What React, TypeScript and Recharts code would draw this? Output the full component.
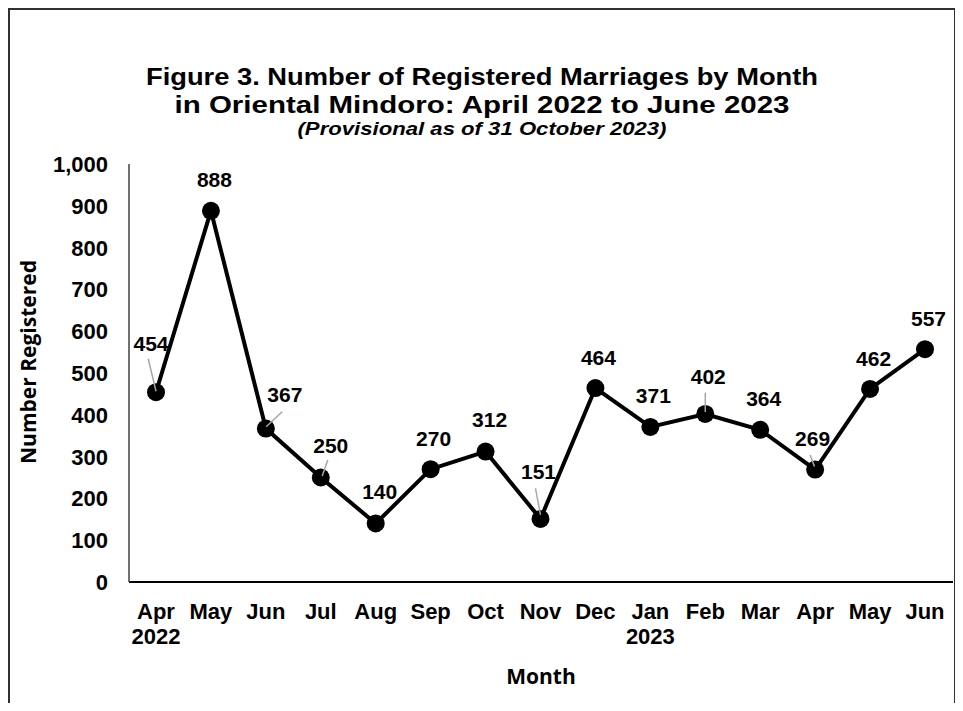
import React from 'react';
import { LineChart, Line, XAxis, YAxis, LabelList } from 'recharts';

// ---- data ----
const months = ['Apr', 'May', 'Jun', 'Jul', 'Aug', 'Sep', 'Oct', 'Nov', 'Dec', 'Jan', 'Feb', 'Mar', 'Apr', 'May', 'Jun'];
const years = ['2022', '', '', '', '', '', '', '', '', '2023', '', '', '', '', ''];
const registered = [454, 888, 367, 250, 140, 270, 312, 151, 464, 371, 402, 364, 269, 462, 557];
const yTicks = [0, 100, 200, 300, 400, 500, 600, 700, 800, 900, 1000];

const titleLines = [
  'Figure 3. Number of Registered Marriages by Month',
  'in Oriental Mindoro: April 2022 to June 2023',
];
const subtitle = '(Provisional as of 31 October 2023)';
const xTitle = 'Month';
const yTitle = 'Number Registered';

// label placement (layout only): [dx, dy] of label centre from point, optional leader [x1,y1,x2,y2] relative to point
const labelPlacement: { dx: number; dy: number; leader?: number[] }[] = [
  { dx: -5, dy: -49, leader: [-7.8, -33.5, 0, -1] },
  { dx: 3.5, dy: -31.5 },
  { dx: 19, dy: -33.6, leader: [16.3, -16.9, 0.3, -1.9] },
  { dx: 10, dy: -32.5, leader: [7, -17.5, 1.4, -1.5] },
  { dx: 4, dy: -32 },
  { dx: 3, dy: -31 },
  { dx: 4, dy: -32 },
  { dx: -2, dy: -47, leader: [-5, -30.6, 0, -4] },
  { dx: 3, dy: -31 },
  { dx: 3, dy: -31 },
  { dx: 3, dy: -37, leader: [0, -21.3, 0, -2] },
  { dx: 3.5, dy: -31.5 },
  { dx: -2.5, dy: -31, leader: [-5, -14.6, -0.7, -3] },
  { dx: 3.5, dy: -30.5 },
  { dx: 3.5, dy: -31 },
];

const data = months.map((m, i) => ({ key: `${m}-${i}`, month: m, year: years[i], value: registered[i] }));

const ARIAL = '"Liberation Sans", Arial, sans-serif';
const OPEN = '"Open Sans", "Liberation Sans", Arial, sans-serif';

const W = 948;
const H = 695;

const fmt = (v: number) => v.toLocaleString('en-US');

function YTick(props: any) {
  const { x, y, payload } = props;
  return (
    <text x={x - 21} y={y} dy={8} textAnchor="end" fontFamily={ARIAL} fontWeight="bold" fontSize={22} fill="#000">
      {fmt(payload.value)}
    </text>
  );
}

function XTick(props: any) {
  const { x, y, payload } = props;
  const i = data.findIndex((d) => d.key === payload.value);
  const m = i >= 0 ? months[i] : '';
  const yr = i >= 0 ? years[i] : '';
  return (
    <g>
      <text x={x} y={y + 37} textAnchor="middle" fontFamily={ARIAL} fontWeight="bold" fontSize={22} fill="#000">
        {m}
      </text>
      {yr ? (
        <text x={x} y={y + 62} textAnchor="middle" fontFamily={ARIAL} fontWeight="bold" fontSize={22} fill="#000">
          {yr}
        </text>
      ) : null}
    </g>
  );
}

function DataLabel(props: any) {
  const { x, y, value, index } = props;
  const p = labelPlacement[index] || { dx: 3, dy: -31 };
  const l = p.leader;
  return (
    <g>
      {l ? (
        <line x1={x + l[0]} y1={y + l[1]} x2={x + l[2]} y2={y + l[3]} stroke="#a6a6a6" strokeWidth={1.5} />
      ) : null}
      <text x={x + p.dx} y={y + p.dy} dy={7.5} textAnchor="middle" fontFamily={ARIAL} fontWeight="bold" fontSize={21} fill="#000">
        {value}
      </text>
    </g>
  );
}

export default function App() {
  return (
    <div style={{ position: 'relative', width: W, height: H }}>
      <div
        style={{
          position: 'absolute',
          left: 0,
          top: 0,
          width: W,
          height: H,
          boxSizing: 'border-box',
          borderTop: '2px solid #303030',
          borderLeft: '2px solid #303030',
          borderRight: '2px solid #303030',
          background: '#fff',
        }}
      />
      <div style={{ position: 'absolute', left: 0, top: 0 }}>
        <LineChart width={W} height={H} data={data} margin={{ top: 156, right: 3, left: 0, bottom: 41 }}>
          <XAxis
            dataKey="key"
            interval={0}
            padding={{ left: 27, right: 28 }}
            height={80}
            tickSize={0}
            tickMargin={0}
            tickLine={false}
            axisLine={{ stroke: '#000', strokeWidth: 2 }}
            tick={<XTick />}
          />
          <YAxis
            domain={[0, 1000]}
            ticks={yTicks}
            width={121}
            tickSize={0}
            tickMargin={0}
            tickLine={false}
            axisLine={{ stroke: '#404040', strokeWidth: 1.5 }}
            tick={<YTick />}
            interval={0}
          />
          <Line
            type="linear"
            dataKey="value"
            stroke="#000"
            strokeWidth={4}
            dot={{ r: 9, fill: '#000', stroke: '#000', strokeWidth: 0 }}
            activeDot={false}
            isAnimationActive={false}
          >
            <LabelList dataKey="value" content={<DataLabel />} />
          </Line>
        </LineChart>
      </div>
      <svg width={W} height={H} style={{ position: 'absolute', left: 0, top: 0, pointerEvents: 'none' }}>
        <text x={474} y={77} textAnchor="middle" fontFamily={ARIAL} fontWeight="bold" fontSize={24.5} textLength={672} lengthAdjust="spacingAndGlyphs" fill="#000">
          {titleLines[0]}
        </text>
        <text x={474} y={105} textAnchor="middle" fontFamily={ARIAL} fontWeight="bold" fontSize={24.5} textLength={615} lengthAdjust="spacingAndGlyphs" fill="#000">
          {titleLines[1]}
        </text>
        <text x={474} y={127} textAnchor="middle" fontFamily={ARIAL} fontWeight="bold" fontStyle="italic" fontSize={18.5} textLength={369} lengthAdjust="spacingAndGlyphs" fill="#000">
          {subtitle}
        </text>
        <text x={533} y={676} textAnchor="middle" fontFamily={OPEN} fontWeight="bold" fontSize={21} fill="#000">
          {xTitle}
        </text>
        <text
          x={20}
          y={354}
          textAnchor="middle"
          dominantBaseline="central"
          transform="rotate(-90 20 354)"
          fontFamily={OPEN}
          fontWeight="bold"
          fontSize={21}
          fill="#000"
        >
          {yTitle}
        </text>
      </svg>
    </div>
  );
}
